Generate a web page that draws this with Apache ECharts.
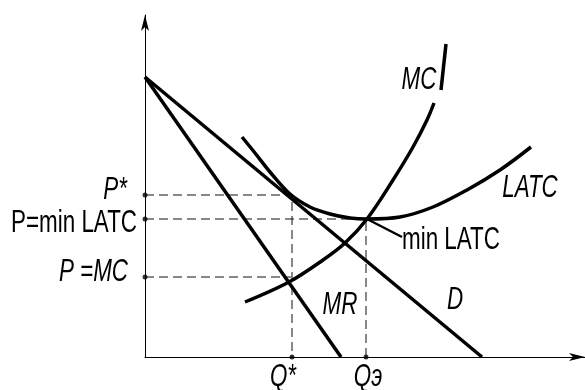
<!DOCTYPE html>
<html>
<head>
<meta charset="utf-8">
<script src="https://cdn.jsdelivr.net/npm/echarts@6/dist/echarts.min.js"></script>
<style>
  html, body { margin: 0; padding: 0; background: #fff; }
  #chart { width: 585px; height: 390px; }
</style>
</head>
<body>
<div id="chart"></div>
<script>
// key levels (schematic units)
var qStar = 147, qE = 221;
var pStar = 162, pMin = 138, pMc = 80;

var demand = [[0, 280], [337, 0]];
var mr = [[0, 280], [196, 0]];
var latc = [[97, 220], [110, 204], [125, 185], [145, 163], [165, 150], [185, 143],
            [205, 139], [222, 138], [255, 140], [288, 150], [322, 167], [355, 187], [386, 210]];
var mc = [[100, 55], [144, 75], [178, 97], [200, 114], [222, 138], [248, 177],
          [268, 210], [282, 237], [289, 254]];
var mcTop = [[296, 267], [301, 313]];
var leader = [[222, 138], [257, 120]];

var priceLabels = ['P*', 'P=min LATC', 'P =MC'];
var qtyLabels = ['Q*', 'Qэ'];
var curveLabels = ['MC', 'LATC', 'min LATC', 'MR', 'D'];

var font = '"Liberation Sans", Arial, sans-serif';

function solid(data, width) {
    return {
        type: 'line', data: data, symbol: 'none', silent: true,
        lineStyle: { color: '#000', width: width || 3.5 }
    };
}
function curve(data) {
    var s = solid(data, 3.5);
    s.smooth = 0.35;
    return s;
}
function dashed(data) {
    return {
        type: 'line', data: data, symbol: 'none', silent: true,
        lineStyle: { color: '#111', width: 1, type: [9, 5] }
    };
}

var chart = echarts.init(document.getElementById('chart'));

var prices = [pStar, pMin, pMc];
var qtys = [qStar, qE];
var dots = prices.map(function (p) { return [0, p]; })
    .concat(qtys.map(function (q) { return [q, 0]; }));

var option = {
    animation: false,
    grid: { left: 145, width: 440, top: 15, bottom: 33 },
    xAxis: {
        type: 'value', min: 0, max: 440,
        axisLine: { onZero: false, lineStyle: { color: '#000', width: 1 }, symbol: ['none', 'arrow'], symbolSize: [6, 16] },
        axisTick: { show: false }, axisLabel: { show: false }, splitLine: { show: false }
    },
    yAxis: {
        type: 'value', min: 0, max: 342,
        axisLine: { onZero: false, lineStyle: { color: '#000', width: 1 }, symbol: ['none', 'arrow'], symbolSize: [6, 16] },
        axisTick: { show: false }, axisLabel: { show: false }, splitLine: { show: false }
    },
    series: [
        dashed([[0, pStar], [qStar, pStar], [qStar, 0]]),
        dashed([[0, pMin], [qE, pMin], [qE, 0]]),
        dashed([[0, pMc], [146, pMc]]),
        solid(demand),
        solid(mr),
        curve(latc),
        curve(mc),
        solid(mcTop, 3.5),
        solid(leader, 2.5),
        {
            type: 'scatter', data: dots, symbol: 'circle', symbolSize: 5, silent: true,
            itemStyle: { color: '#000' }
        }
    ]
};
chart.setOption(option);

// text anchors in data units: [x, y, align, italic]
var priceAnchors = [[-18, 167, 'right', true], [-8, 134, 'right', false], [-17, 85, 'right', true]];
var qtyAnchors = [[138, -20, 'center', true], [223, -20, 'center', true]];
var curveAnchors = [[274, 277, 'center', true], [385, 169, 'center', true], [257, 117, 'left', false],
                    [195, 52, 'center', true], [310, 57, 'center', true]];

function textEl(a, txt) {
    var px = chart.convertToPixel({ gridIndex: 0 }, [a[0], a[1]]);
    return {
        type: 'text', x: px[0], y: px[1], scaleX: 0.7, silent: true,
        style: {
            text: txt, fill: '#000',
            font: (a[3] ? 'italic ' : '') + '32px ' + font,
            align: a[2], verticalAlign: 'middle',
            textAlign: a[2], textVerticalAlign: 'middle'
        }
    };
}

var texts = [];
priceAnchors.forEach(function (a, i) { texts.push(textEl(a, priceLabels[i])); });
qtyAnchors.forEach(function (a, i) { texts.push(textEl(a, qtyLabels[i])); });
curveAnchors.forEach(function (a, i) { texts.push(textEl(a, curveLabels[i])); });
chart.setOption({ graphic: texts });
</script>
</body>
</html>
